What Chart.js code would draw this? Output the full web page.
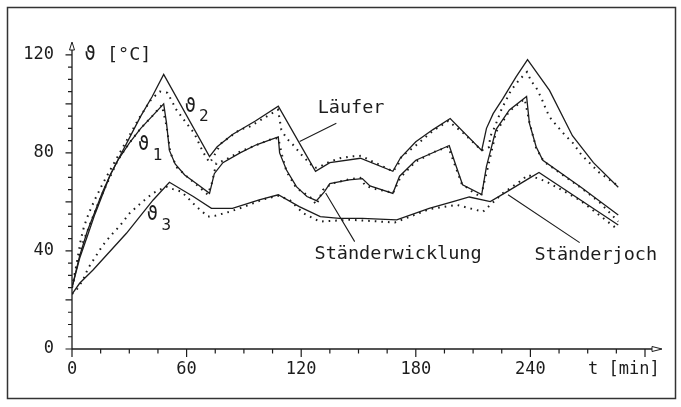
<!DOCTYPE html>
<html>
<head>
<meta charset="utf-8">
<script src="https://cdn.jsdelivr.net/npm/chart.js@4.4.1/dist/chart.umd.min.js"></script>
<style>
  html, body { margin: 0; padding: 0; background: #fff; }
  canvas { display: block; }
</style>
</head>
<body>
<canvas id="c" width="681" height="407"></canvas>
<script>
// ── DATA (t in min, temperature in °C) ─────────────────
// Läufer ϑ2 – computed (solid)
const t2Calc = [0, 4, 8, 12, 16, 20, 24, 30, 36, 42, 48, 72, 76, 84, 96, 108, 127.5, 135, 151, 168, 172, 180, 189, 198, 214.5, 217, 220.5, 225.5, 232.5, 238.5, 250, 262, 273, 286];
const v2Calc = [25, 37, 46, 55, 63, 71, 77, 86, 95, 103, 112, 78.5, 82.5, 87.5, 93, 99, 72.5, 76, 77.8, 72.5, 78, 84.5, 89.5, 94, 81, 90, 96, 102, 111, 118, 105.5, 87, 76, 66];
// Läufer ϑ2 – measured (dotted)
const t2Meas = [0, 2.5, 4.6, 6.3, 8.9, 12, 16.2, 20, 25, 30, 35, 41.6, 46, 50, 54.7, 60, 64, 68.5, 72, 73, 78.2, 87.8, 93, 101.8, 107.9, 109.6, 112.3, 115.7, 121, 127, 130, 134.9, 140.2, 145.4, 151.5, 157.6, 164.6, 168, 170.7, 172.5, 180, 189, 197, 205, 214.5, 218.3, 219, 221.3, 225, 230, 234.4, 238.2, 240.5, 242.8, 245.8, 248.4, 250.1, 252.7, 258, 262.3, 266.7, 276, 286];
const v2Meas = [25, 35, 44.5, 50, 55.6, 61, 67.6, 73, 80, 87, 94, 102, 105, 104.5, 97.5, 92, 88, 80.5, 76, 77, 84, 89.4, 90.7, 94.8, 97.6, 89.4, 86, 83.3, 78.5, 73.8, 74.5, 76.4, 77.8, 78.5, 78.8, 76.4, 73.8, 72.4, 75.1, 78.5, 83, 89, 93, 88, 81, 82.3, 86.7, 90.5, 98, 105.7, 110, 113, 109.1, 107, 102.3, 97.3, 94.6, 92.1, 87.3, 84, 79.2, 72, 66.5];

// Ständerwicklung ϑ1 – computed (solid)
const t1Calc = [0, 4, 8, 12, 16, 20, 24, 30, 36, 42, 48, 49.5, 51, 54, 59, 66, 72, 74.5, 79, 88, 96.5, 108, 108.7, 112.3, 117.5, 123, 128, 132, 135, 145, 152, 156, 168, 171.5, 180, 197.5, 200.5, 204.5, 214.5, 217, 222, 229, 238, 239.5, 243, 246.5, 266.5, 286];
const v1Calc = [25, 38, 48, 56, 64, 71, 77, 84, 90, 95, 100, 92, 81, 75.5, 71, 67, 63.5, 71.5, 76, 80, 83.3, 86.5, 80, 73, 66.2, 62.2, 60.5, 64, 67.5, 69, 69.5, 66.5, 63.5, 70.5, 77, 83, 76, 67, 63, 74.5, 89.5, 97.5, 103, 92, 82.5, 77, 66, 54.7];
// Ständerwicklung ϑ1 – measured (dotted)
const t1Meas = [0, 3, 6, 10, 14, 18, 24, 30, 36, 42, 47, 49.5, 51.5, 55, 60, 66, 71, 73, 75.6, 80, 88, 96, 104, 108, 110, 112.3, 117.5, 124.5, 128, 131.4, 136, 145, 151, 153.3, 156.8, 161, 165.5, 168, 172, 180, 190, 197, 200, 204, 209, 214, 218, 222, 229, 237, 239.5, 243, 247, 256, 266, 276, 286];
const v1Meas = [25, 36, 44, 52, 60, 67, 77, 84, 90, 95, 99.5, 91, 80, 74, 70.5, 66.5, 63, 67, 75.8, 77, 80.5, 83, 85.5, 86, 79, 72.4, 65.6, 62.2, 58.8, 64.9, 67.5, 69.2, 69.8, 66.9, 65.6, 64.9, 64.2, 63.5, 70, 76.5, 80.5, 82.5, 76, 67.5, 64.5, 62, 75, 88.5, 97, 102, 92.5, 82, 76.5, 71.5, 66, 60, 52];

// Ständerjoch ϑ3 – computed (solid)
const t3Calc = [0, 4, 11, 28.5, 42.5, 51, 63.5, 73, 84, 98, 108, 119, 130, 140, 152, 170, 187, 199.5, 208, 219, 226.5, 239.5, 244.5, 286];
const v3Calc = [22.4, 26.8, 32.2, 47.2, 60.8, 68, 62.2, 57.4, 57.4, 60.8, 62.9, 58.1, 54, 53.3, 53.3, 52.7, 57.4, 60.1, 62, 60.1, 63.6, 69.7, 72, 50.6];
// Ständerjoch ϑ3 – measured (dotted)
const t3Meas = [0, 2.3, 5.8, 8.4, 16.2, 20.6, 25, 30.2, 36.3, 42.4, 49.4, 52.9, 57.3, 59.9, 65.1, 71.2, 74.7, 82.6, 90, 100, 108, 114, 121, 129.7, 145.4, 161, 169, 187, 201.3, 211.7, 215.2, 225.7, 234.4, 238.7, 248.4, 265.8, 286];
const v3Meas = [22.4, 24, 28.2, 32.9, 42.4, 46.5, 50.2, 55.4, 59.7, 63.6, 66.2, 65.2, 64.2, 62.2, 58.1, 54, 54.3, 56, 58, 61, 62.5, 60.8, 55.4, 52, 52.7, 52, 51.6, 57, 58.8, 56.7, 56, 63.6, 68.3, 71, 68.3, 60.8, 48.6];

// axis labels
const xTickLabels = [0, 60, 120, 180, 240];
const yTickLabels = [0, 40, 80, 120];

const INK = '#1c1c1c';
const pts = (ts, vs) => ts.map((t, i) => ({ x: t, y: vs[i] }));

function solid(ts, vs) {
    return { data: pts(ts, vs), showLine: true, borderColor: INK, borderWidth: 1.3, pointRadius: 0, tension: 0 };
}
function dotted(ts, vs) {
    return { data: pts(ts, vs), showLine: true, borderColor: INK, borderWidth: 2, borderDash: [1.6, 5], pointRadius: 0, tension: 0 };
}

// ── AXES, FRAME, LABELS ────────────────────────────────
const decor = {
    id: 'decor',
    beforeDraw(chart) {
        const c = chart.ctx;
        c.save();
        c.fillStyle = '#fff';
        c.fillRect(0, 0, chart.width, chart.height);
        c.restore();
    },
    afterDraw(chart) {
        const c = chart.ctx, xs = chart.scales.x, ys = chart.scales.y;
        const X = v => xs.getPixelForValue(v), Y = v => ys.getPixelForValue(v);
        const x0 = X(0), y0 = Y(0);
        c.save();
        c.strokeStyle = '#333';
        c.lineWidth = 1.5;
        c.strokeRect(7.5, 7.5, 668, 391);

        // axes lines
        c.strokeStyle = INK;
        c.lineWidth = 1.3;
        const yTop = 42, xEnd = 662;
        c.beginPath();
        c.moveTo(x0, y0); c.lineTo(x0, yTop + 8);
        c.moveTo(x0, y0); c.lineTo(xEnd - 10, y0);
        c.stroke();
        // hollow arrow heads
        c.lineWidth = 1;
        c.beginPath();
        c.moveTo(x0, yTop); c.lineTo(x0 - 2.5, yTop + 8); c.lineTo(x0 + 2.5, yTop + 8); c.closePath();
        c.moveTo(xEnd, y0); c.lineTo(xEnd - 10, y0 - 2.5); c.lineTo(xEnd - 10, y0 + 2.5); c.closePath();
        c.stroke();

        // ticks
        c.lineWidth = 1.2;
        c.beginPath();
        for (let v = 0; v <= 120; v += 5) {
            const len = v % 20 === 0 ? 6.5 : 4;
            c.moveTo(x0 - len, Y(v)); c.lineTo(x0, Y(v));
        }
        for (let t = 0; t <= 300; t += 15) {
            const len = t % 60 === 0 ? 8 : 4.5;
            c.moveTo(X(t), y0); c.lineTo(X(t), y0 + len);
        }
        c.stroke();

        // tick labels
        c.fillStyle = INK;
        c.font = '17px "DejaVu Sans Mono"';
        c.textAlign = 'right'; c.textBaseline = 'middle';
        yTickLabels.forEach(v => c.fillText(String(v), 54, Y(v)));
        c.textAlign = 'center';
        xTickLabels.forEach(t => c.fillText(String(t), X(t), 370));
        c.textAlign = 'left';
        c.fillText('t [min]', 588, 370);

        // titles & curve labels (positions in data units)
        const txt = (s, t, v, size) => { c.font = size + 'px "DejaVu Sans Mono"'; c.fillText(s, X(t), Y(v)); };
        txt('ϑ [°C]', 6.6, 120, 18.5);
        txt('ϑ', 59, 98.8, 18.5);   txt('2', 66.5, 94.5, 16);
        txt('ϑ', 34.6, 83.3, 18.5); txt('1', 42.3, 78.8, 16);
        txt('ϑ', 39.1, 54.7, 18.5); txt('3', 46.8, 50.2, 16);
        txt('Läufer', 128.6, 98.4, 18.5);
        txt('Ständerwicklung', 127, 38.8, 18.5);
        txt('Ständerjoch', 242.2, 38.4, 18.5);

        // leader lines
        c.lineWidth = 1.1;
        c.beginPath();
        c.moveTo(X(138.4), Y(92.1)); c.lineTo(X(119.2), Y(84.6));
        c.moveTo(X(148), Y(43.8));   c.lineTo(X(132.8), Y(63.6));
        c.moveTo(X(265.8), Y(43.4)); c.lineTo(X(228.3), Y(62.9));
        c.stroke();
        c.restore();
    }
};

new Chart(document.getElementById('c'), {
    type: 'scatter',
    data: {
        datasets: [
            solid(t2Calc, v2Calc), dotted(t2Meas, v2Meas),
            solid(t1Calc, v1Calc), dotted(t1Meas, v1Meas),
            solid(t3Calc, v3Calc), dotted(t3Meas, v3Meas)
        ]
    },
    options: {
        responsive: false,
        animation: false,
        layout: { padding: { left: 72, right: 36, top: 45, bottom: 58 } },
        plugins: { legend: { display: false }, tooltip: { enabled: false } },
        scales: {
            x: { type: 'linear', min: 0, max: 300, display: false },
            y: { min: 0, max: 124, display: false }
        }
    },
    plugins: [decor]
});
</script>
</body>
</html>
